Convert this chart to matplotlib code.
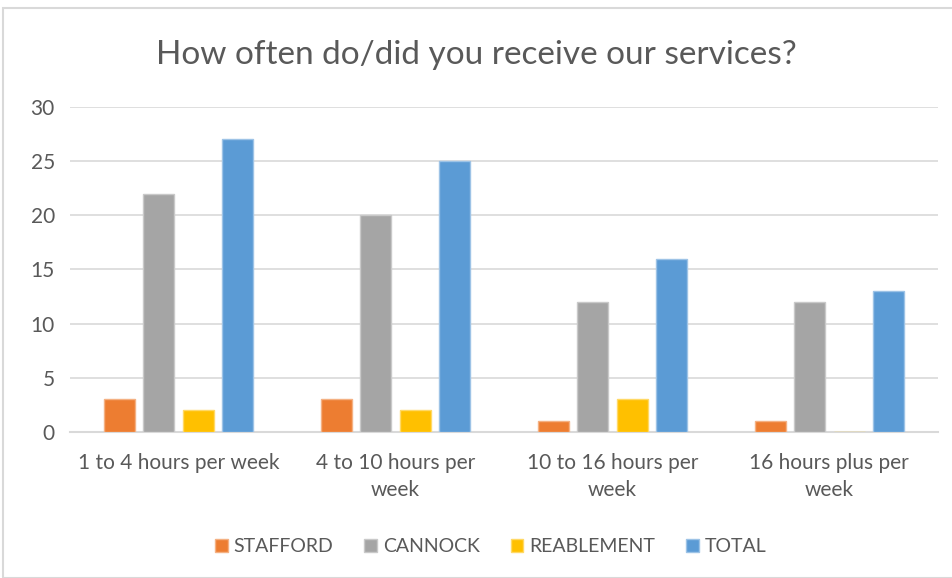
import numpy as np
import matplotlib
matplotlib.use('Agg')
import matplotlib.pyplot as plt
from matplotlib.patches import Rectangle

categories = ['1 to 4 hours per week', '4 to 10 hours per\nweek',
              '10 to 16 hours per\nweek', '16 hours plus per\nweek']
series = ['STAFFORD', 'CANNOCK', 'REABLEMENT', 'TOTAL']
stafford = [3, 3, 1, 1]
cannock = [22, 20, 12, 12]
reablement = [2, 2, 3, 0]
total = [27, 25, 16, 13]
values = [stafford, cannock, reablement, total]

colors = ['#ED7D31', '#A5A5A5', '#FFC000', '#5B9BD5']
edges = ['#F4B183', '#C9C9C9', '#FFD966', '#9DC3E6']
text_col = '#595959'

plt.rcParams['font.family'] = ['Lato', 'DejaVu Sans']

fig = plt.figure(figsize=(9.53, 5.78), dpi=100)
ax = fig.add_axes([0.0735, 0.2526, 0.9105, 0.5624])

# chart frame
fig.patches.append(Rectangle((3 / 953, 0), 1, 1 - 8 / 578, transform=fig.transFigure,
                             fill=False, edgecolor='#D9D9D9', linewidth=1.5))

x = np.arange(len(categories))
step = 0.182
width = 0.143
offsets = (np.arange(len(series)) - 1.5) * step
for i, name in enumerate(series):
    ax.bar(x + offsets[i], values[i], width, color=colors[i], edgecolor=edges[i],
           linewidth=1, label=name, zorder=3)

ax.set_xlim(-0.5, 3.5)
ax.set_ylim(0, 30)
ax.set_yticks(range(0, 31, 5))
ax.yaxis.grid(True, color='#D9D9D9', linewidth=1.2, zorder=0)
ax.set_axisbelow(True)
for s in ['top', 'right', 'left']:
    ax.spines[s].set_visible(False)
ax.spines['bottom'].set_color('#D9D9D9')
ax.spines['bottom'].set_linewidth(1.5)
ax.tick_params(axis='both', length=0, labelsize=15, labelcolor=text_col)
ax.tick_params(axis='y', pad=11)
ax.tick_params(axis='x', pad=15)
ax.set_xticks(x)
ax.set_xticklabels(categories, linespacing=1.45)

fig.text(0.5, 0.905, 'How often do/did you receive our services?', ha='center',
         va='center', fontsize=24, color=text_col)

fig.legend(loc='center', bbox_to_anchor=(0.515, 0.054), ncol=4, frameon=False,
           fontsize=14, labelcolor=text_col, handlelength=0.65, handleheight=0.65,
           handletextpad=0.3, columnspacing=1.6)

fig.savefig('out.png', dpi=100)
